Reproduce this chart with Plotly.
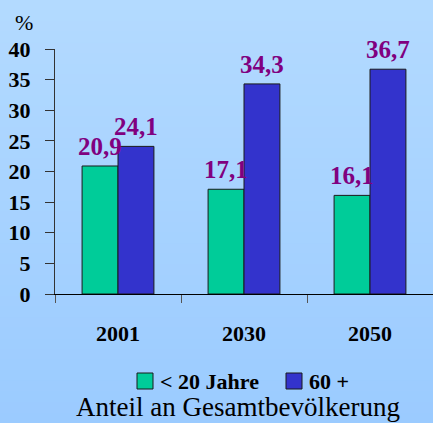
import plotly.graph_objects as go

# Bevölkerungsanteile nach Altersgruppe (in %)
years = ["2001", "2030", "2050"]
under_20 = [20.9, 17.1, 16.1]
over_60 = [24.1, 34.3, 36.7]
series_names = ["< 20 Jahre", "60 +"]
y_ticks = [0, 5, 10, 15, 20, 25, 30, 35, 40]

SERIF = "Liberation Serif, Times New Roman, serif"
LABEL_COLOR = "#800080"
BAR_GAP = 0.43
COLORS = ["#00CC99", "#3333CC"]
OUTLINE = "#1a1a1a"

W, H = 433, 423
M_L, M_R, M_T, M_B = 55, 0, 49, 129
plot_h = H - M_T - M_B
plot_w = W - M_L - M_R


def paper_x(px):
    return (px - M_L) / plot_w


def paper_y(py):
    return (H - M_B - py) / plot_h


fig = go.Figure()

series = list(zip(series_names, [under_20, over_60], COLORS))
for name, vals, color in series:
    fig.add_trace(go.Bar(
        x=years,
        y=vals,
        name=name,
        marker=dict(color=color, line=dict(color=OUTLINE, width=1)),
    ))

# value labels above each bar (decimal comma)
bar_w = (1 - BAR_GAP) / len(series)
annotations = []
for s_idx, (_, vals, _) in enumerate(series):
    offset = (s_idx - (len(series) - 1) / 2) * bar_w
    for i, v in enumerate(vals):
        annotations.append(dict(
            x=i + offset, y=v, xref="x", yref="y",
            text=f"{v:.1f}".replace(".", ","),
            showarrow=False, xanchor="center", yanchor="bottom", yshift=4,
            font=dict(family=SERIF, size=25, color=LABEL_COLOR, weight="bold"),
        ))

annotations += [
    dict(
        text="%", xref="paper", yref="paper",
        x=paper_x(24), y=paper_y(22), xanchor="center", yanchor="middle",
        showarrow=False, font=dict(family=SERIF, size=22, color="black"),
    ),
    dict(
        text="Anteil an Gesamtbevölkerung", xref="paper", yref="paper",
        x=paper_x(238), y=paper_y(407), xanchor="center", yanchor="middle",
        showarrow=False, font=dict(family=SERIF, size=27, color="black"),
    ),
]

# soft vertical gradient behind the whole chart
top_rgb = (0xB3, 0xDA, 0xFF)
bot_rgb = (0x9B, 0xCB, 0xFF)
n_bands = 40
shapes = []
for i in range(n_bands):
    t = i / (n_bands - 1)
    r, g, b = (round(a + (c - a) * t) for a, c in zip(top_rgb, bot_rgb))
    y0_px = H * i / n_bands
    y1_px = H * (i + 1) / n_bands + 1
    shapes.append(dict(
        type="rect", xref="paper", yref="paper", layer="below",
        x0=paper_x(-2), x1=paper_x(W + 2),
        y0=paper_y(y1_px), y1=paper_y(y0_px),
        fillcolor=f"rgb({r},{g},{b})", line=dict(width=0),
    ))

# legend row: swatch + bold label per series
legend_y = 381
swatch = 16
legend_x = [137, 286]
for name, color, lx in zip(series_names, COLORS, legend_x):
    shapes.append(dict(
        type="rect", xref="paper", yref="paper",
        x0=paper_x(lx), x1=paper_x(lx + swatch),
        y0=paper_y(legend_y + swatch / 2), y1=paper_y(legend_y - swatch / 2),
        fillcolor=color, line=dict(color=OUTLINE, width=1),
    ))
    annotations.append(dict(
        text=name, xref="paper", yref="paper",
        x=paper_x(lx + swatch + 5), y=paper_y(legend_y),
        xanchor="left", yanchor="middle", showarrow=False,
        font=dict(family=SERIF, size=22, color="black", weight="bold"),
    ))

fig.update_layout(
    width=W,
    height=H,
    margin=dict(l=M_L, r=M_R, t=M_T, b=M_B),
    paper_bgcolor="#A6D2FF",
    plot_bgcolor="rgba(0,0,0,0)",
    separators=",.",
    barmode="group",
    bargap=BAR_GAP,
    bargroupgap=0,
    shapes=shapes,
    annotations=annotations,
    showlegend=False,
    font=dict(family=SERIF, color="black"),
)

fig.update_xaxes(
    type="category",
    range=[-0.5, 2.5],
    showline=True, linecolor="black", linewidth=1,
    ticks="outside", tickson="boundaries", ticklen=8, tickcolor="#555",
    ticklabelstandoff=20,
    tickfont=dict(family=SERIF, size=22, color="black", weight="bold"),
    showgrid=False, zeroline=False,
)
fig.update_yaxes(
    range=[0, 40],
    tickvals=y_ticks,
    showline=True, linecolor="#333", linewidth=1,
    ticks="outside", ticklen=9, tickcolor="#333",
    ticklabelstandoff=10,
    tickfont=dict(family=SERIF, size=22, color="black", weight="bold"),
    showgrid=False, zeroline=False,
)

fig.write_html("out.html")
